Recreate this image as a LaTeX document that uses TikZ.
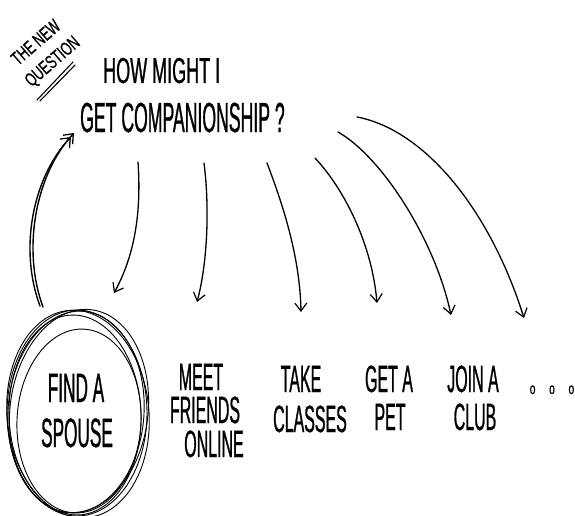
\documentclass[tikz,border=0pt]{standalone}
\usepackage{fontspec}
\newfontfamily\hand[FakeStretch=0.42,FakeBold=0.7]{Liberation Sans}
\newfontfamily\handA[FakeStretch=0.5,FakeBold=0.7]{Liberation Sans}
\newfontfamily\handB[FakeStretch=0.66,FakeBold=0.6]{Liberation Sans}
\usetikzlibrary{arrows.meta}
\begin{document}
\begin{tikzpicture}[x=1pt,y=-1pt,
  lbl/.style={inner sep=0pt,anchor=base,text height=27pt,text depth=0pt,font={\hand\fontsize{38}{40}\selectfont}},
  big/.style={lbl,text height=29pt,font={\hand\fontsize{41}{44}\selectfont}},
  small/.style={inner sep=0pt,anchor=center,rotate=41,align=center,font={\handB\fontsize{19}{25}\selectfont}},
  arr/.style={line width=1.3pt,line cap=round,-{Straight Barb[length=8pt,width=12pt,line width=1.2pt]}},
  backarr/.style={line width=1.4pt,line cap=round,-{Straight Barb[length=8pt,width=13pt,line width=1.3pt]}},
  ring/.style={line width=0.9pt},
  uline/.style={line width=1.1pt,line cap=round}]
\useasboundingbox[fill=white] (0,0) rectangle (575,516);

% the new question
\node[small] (newq) at (45,53) {THE NEW\\QUESTION};
\draw[uline] (37,100) -- (73,62);
\draw[uline] (40,101) -- (75,65);

% main question
\node[inner sep=0pt,anchor=base west,text height=26pt,text depth=0pt,font={\handA\fontsize{36}{40}\selectfont}] (how) at (103,83) {HOW MIGHT I};
\node[inner sep=0pt,anchor=base west,text height=30pt,text depth=0pt,font={\hand\fontsize{42}{44}\selectfont}] (get) at (80,132) {GET COMPANIONSHIP ?};

% circle
\draw[ring] (77,413) ellipse [x radius=70pt, y radius=103pt];
\draw[ring,rotate around={-4:(76,412)}] (76,412) ellipse [x radius=68pt, y radius=101pt];
\draw[ring,rotate around={5:(78,414)}] (78,414) ellipse [x radius=71pt, y radius=104pt];
\draw[ring,rotate around={2:(75,415)}] (75,415) ellipse [x radius=66pt, y radius=100pt];
\draw[ring,rotate around={-7:(79,411)}] (79,411) ellipse [x radius=69pt, y radius=102pt];
\draw[ring,rotate around={-3:(79,421)}] (79,421) ellipse [x radius=62pt, y radius=92pt];

% options
\node[big] (find1) at (76,402) {FIND A};
\node[big] (find2) at (77,447) {SPOUSE};
\node[lbl] (meet1) at (201,390) {MEET};
\node[lbl] (meet2) at (205,423) {FRIENDS};
\node[lbl] (meet3) at (214,457) {ONLINE};
\node[lbl] (take1) at (301,392) {TAKE};
\node[lbl] (take2) at (310,432) {CLASSES};
\node[lbl] (pet1) at (389,392) {GET A};
\node[lbl] (pet2) at (390,430) {PET};
\node[lbl] (club1) at (473,392) {JOIN A};
\node[lbl] (club2) at (475,430) {CLUB};
\node[inner sep=0pt,anchor=base,font={\handB\fontsize{16}{16}\selectfont}] (dots) at (552,394) {o\hspace{13.5pt}o\hspace{13.5pt}o};

% connector ends
\coordinate (s1) at (138,162); \coordinate (e1) at (114,293);
\coordinate (s2) at (204,163); \coordinate (e2) at (197,302);
\coordinate (s3) at (267,163); \coordinate (e3) at (301,312);
\coordinate (s4) at (315,158); \coordinate (e4) at (377,303);
\coordinate (s5) at (338,132); \coordinate (e5) at (451,315);
\coordinate (s6) at (357,117); \coordinate (e6) at (524,318);
\coordinate (b1) at (43,307); \coordinate (bt1) at (74,133);
\coordinate (b2) at (40,306); \coordinate (bt2) at (71,137);

\draw[arr] (s1) .. controls (142,220) and (132,260) .. (e1);
\draw[arr] (s2) .. controls (210,210) and (207,265) .. (e2);
\draw[arr] (s3) .. controls (285,210) and (300,260) .. (e3);
\draw[arr] (s4) .. controls (345,190) and (372,245) .. (e4);
\draw[arr] (s5) .. controls (382,157) and (435,240) .. (e5);
\draw[arr] (s6) .. controls (425,130) and (490,210) .. (e6);

\draw[backarr] (b1) .. controls (22,250) and (35,175) .. (bt1);
\draw[backarr] (b2) .. controls (19,250) and (32,178) .. (bt2);
\end{tikzpicture}
\end{document}
